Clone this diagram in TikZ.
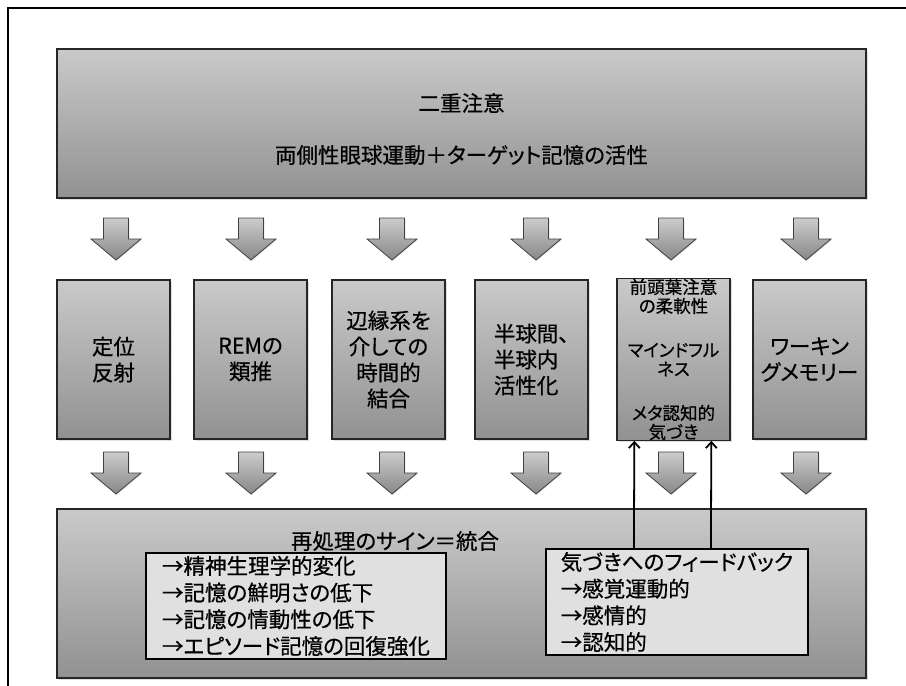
\documentclass[tikz,border=0pt]{standalone}
\usepackage{fontspec}
\setmainfont{Noto Sans CJK JP}[RawFeature={+palt}, FakeBold=0.6]
\usetikzlibrary{calc,shadows,arrows.meta}

\tikzset{
	grad/.style={top color=black!21, bottom color=black!43},
	shadebox/.style={draw=black!85, line width=1.3pt, grad,
		drop shadow={shadow xshift=1.5pt, shadow yshift=-1.5pt, opacity=0.25}},
	bigfont/.style={font=\fontsize{21.5}{26}\selectfont},
	listbox/.style={draw=black, line width=2.2pt, fill=black!12, inner sep=0pt,
		align=left, font=\fontsize{21.5}{26.7}\selectfont},
	fb/.style={line width=1.8pt, -{Straight Barb[length=6pt,width=11pt]}},
	pics/downarr/.style={code={
		\shade[draw=black!75, line width=0.8pt, top color=black!20, bottom color=black!47,
			drop shadow={shadow xshift=1pt, shadow yshift=-1pt, opacity=0.2}]
			(-12.5,0) -- (12.5,0) -- (12.5,-21) -- (25,-21) -- (0,-42)
			-- (-25,-21) -- (-12.5,-21) -- cycle;
	}},
}

\begin{document}
\begin{tikzpicture}[x=1pt,y=1pt]
	\useasboundingbox (0,0) rectangle (906,-686);
	\draw[line width=2.8pt] (906,-8) -- (8,-8) -- (8,-686);
	
	% top and bottom boxes
	\node[shadebox, minimum width=809pt, minimum height=149pt] (T) at (461.5,-123.5) {};
	\node[bigfont] (T1) at (461.5,-103) {二重注意};
	\node[bigfont] (T2) at (461.5,-155) {両側性眼球運動＋ターゲット記憶の活性};
	
	\node[shadebox, minimum width=809pt, minimum height=169pt] (B) at (461.5,-593.5) {};
	\node[bigfont] (B1) at (395,-541) {再処理のサイン＝統合};
	
	% columns
	\begin{scope}[every node/.style={shadebox, bigfont, minimum width=113pt,
			minimum height=159pt, inner sep=0pt, align=center}]
		\node (C1) at (113.5,-359.5) {定位\\反射};
		\node (C2) at (250.5,-359.5) {REMの\\類推};
		\node (C3) at (388.5,-359.5) {辺縁系を\\介しての\\時間的\\結合};
		\node[align=left] (C4) at (531.5,-359.5) {半球間、\\半球内\\活性化};
		\node[font=\fontsize{17.5}{19}\selectfont] (C5) at (673.5,-359.5)
			{前頭葉注意\\の柔軟性\\[25pt]マインドフル\\ネス\\[25pt]メタ認知的\\気づき};
		\node (C6) at (809.5,-359.5) {ワーキン\\グメモリー};
	\end{scope}
	
	% block arrows
	\foreach \x in {116,251,392,536,671,806} {
		\pic at (\x,-218) {downarr};
		\pic at (\x,-452) {downarr};
	}
	
	% lists
	\node[listbox, minimum width=300pt, minimum height=106pt] (L) at (296,-606)
		{→精神生理学的変化\\→記憶の鮮明さの低下\\→記憶の情動性の低下\\→エピソード記憶の回復強化};
	\node[listbox, minimum width=262pt, minimum height=106pt] (R) at (677,-602)
		{気づきへのフィードバック\\→感覚運動的\\→感情的\\→認知的};
	
	\draw[fb] ($(R.north west)+(89,0)$) -- ($(C5.south west)+(18,0)$);
	\draw[fb] ($(R.north west)+(166,0)$) -- ($(C5.south west)+(95,0)$);
\end{tikzpicture}
\end{document}
